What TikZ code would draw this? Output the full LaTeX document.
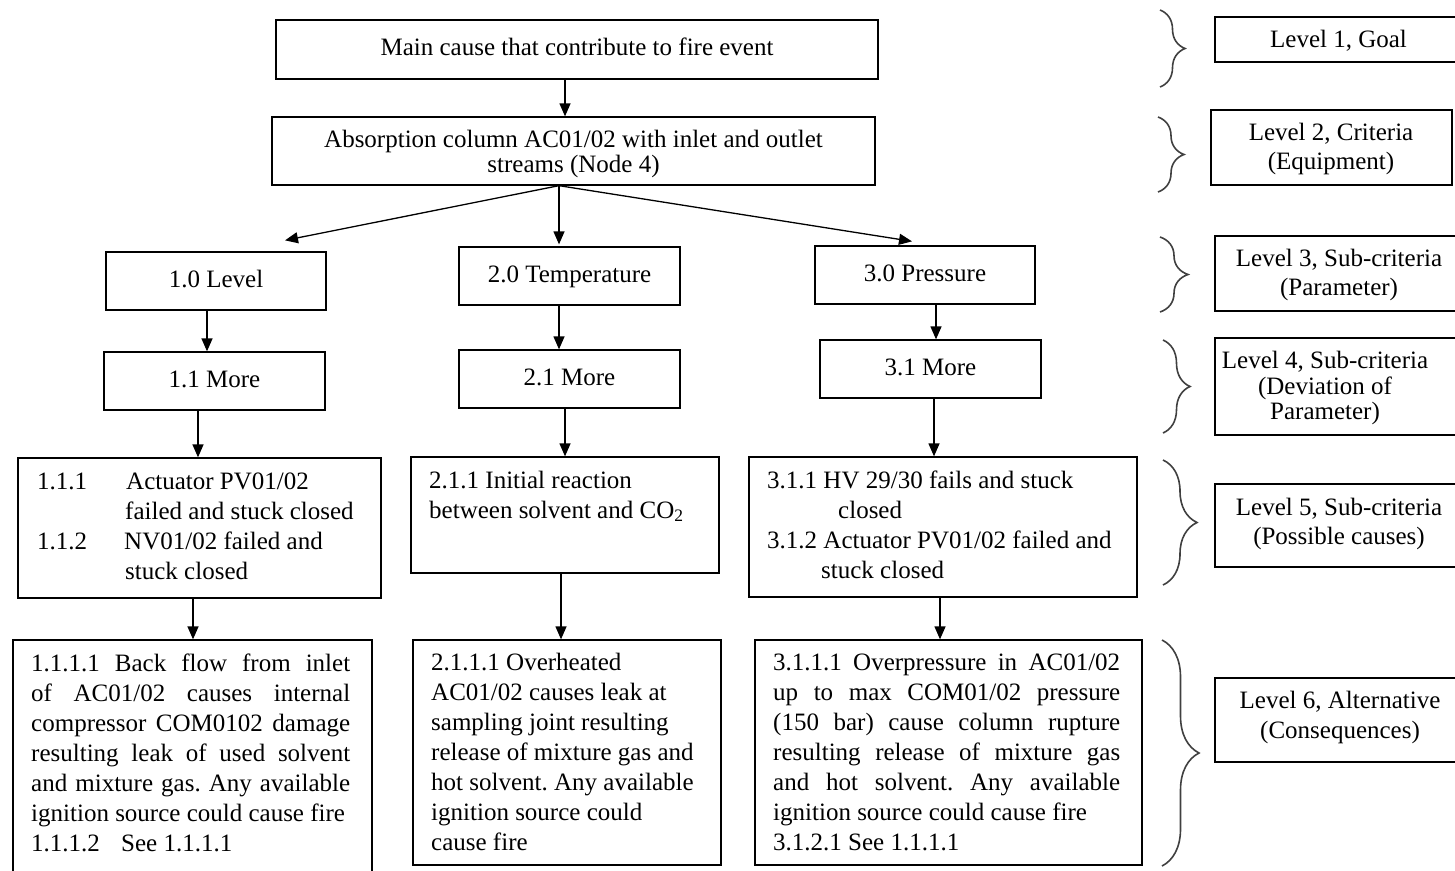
\documentclass[tikz,border=0pt]{standalone}
\usepackage{fontspec}
\setmainfont{Liberation Serif}
\usetikzlibrary{arrows.meta,decorations.pathreplacing}
\begin{document}
\frenchspacing
\begin{tikzpicture}[x=1pt,y=-1pt,
  box/.style={draw, line width=1.3pt, inner sep=0pt, rectangle},
  tx/.style={inner sep=0pt, font=\fontsize{25}{30}\selectfont},
  one/.style={font=\fontsize{25}{30}\selectfont, text height=17pt, text depth=5pt},
  arr/.style={line width=1.3pt, -{Triangle[width=11pt,length=13pt]}},
  brc/.style={decorate, decoration={brace, amplitude=#1}, line width=1.6pt, draw=black!75}
]
\useasboundingbox (0,0) rectangle (1455,870);

% ---- main tree boxes
\node[box, one, minimum width=602pt, minimum height=59pt] (main) at (577,49.5) {Main cause that contribute to fire event};
\node[box, minimum width=603pt, minimum height=68pt] (abs) at (573.5,151) {};
\node[tx, font=\fontsize{25}{25}\selectfont, align=center] (absT) at (573.5,154.5) {\strut Absorption column AC01/02 with inlet and outlet\\streams (Node 4)\strut};

\node[box, one, minimum width=220pt, minimum height=58pt] (lvl) at (216,281) {1.0 Level};
\node[box, one, minimum width=221pt, minimum height=58pt] (temp) at (569.5,276) {2.0 Temperature};
\node[box, one, minimum width=220pt, minimum height=58pt] (pres) at (925,275) {3.0 Pressure};

\node[box, one, minimum width=221pt, minimum height=58pt] (more1) at (214.5,381) {1.1 More};
\node[box, one, minimum width=221pt, minimum height=58pt] (more2) at (569.5,379) {2.1 More};
\node[box, one, minimum width=221pt, minimum height=58pt] (more3) at (930.5,369) {3.1 More};

\node[box, minimum width=363pt, minimum height=140pt] (c111) at (199.5,528) {};
\node[box, minimum width=308pt, minimum height=116pt] (c211) at (565,515) {};
\node[box, minimum width=388pt, minimum height=140pt] (c311) at (943,527) {};

\node[tx, align=left, anchor=north west] (c111T) at (37,468) {\strut\makebox[89pt][l]{1.1.1}Actuator PV01/02\\
\hspace*{88pt}failed and stuck closed\\
\makebox[87pt][l]{1.1.2}NV01/02 failed and\\
\hspace*{88pt}stuck closed};
\node[tx, align=left, anchor=north west] (c211T) at (429,467) {\strut 2.1.1 Initial reaction\\between solvent and CO\textsubscript{2}};
\node[tx, align=left, anchor=north west] (c311T) at (767,467) {\strut 3.1.1 HV 29/30 fails and stuck\\
\hspace*{71pt}closed\\
3.1.2 Actuator PV01/02 failed and\\
\hspace*{54pt}stuck closed};

\node[box, minimum width=359pt, minimum height=240pt] (d1) at (192.5,760) {};
\node[box, minimum width=308pt, minimum height=225pt] (d2) at (567,752.5) {};
\node[box, minimum width=387pt, minimum height=225pt] (d3) at (948.5,752.5) {};

\node[tx, text width=319pt, align=justify, anchor=north west] (d1T) at (31,650) {\strut 1.1.1.1 Back flow from inlet\linebreak
of AC01/02 causes internal\linebreak
compressor COM0102 damage\linebreak
resulting leak of used solvent\linebreak
and mixture gas. Any available\linebreak
ignition source could cause fire\par
\makebox[90pt][l]{1.1.1.2}See 1.1.1.1};
\node[tx, align=left, anchor=north west] (d2T) at (431,649) {\strut 2.1.1.1 Overheated\\
AC01/02 causes leak at\\
sampling joint resulting\\
release of mixture gas and\\
hot solvent. Any available\\
ignition source could\\
cause fire};
\node[tx, text width=347pt, align=justify, anchor=north west] (d3T) at (773,649) {\strut 3.1.1.1 Overpressure in AC01/02\linebreak
up to max COM01/02 pressure\linebreak
(150 bar) cause column rupture\linebreak
resulting release of mixture gas\linebreak
and hot solvent. Any available\linebreak
ignition source could cause fire\par
3.1.2.1 See 1.1.1.1};

% ---- connectors
\draw[arr] ([xshift=-12pt]main.south) -- ([xshift=-8.5pt]abs.north);
\draw[arr] ([xshift=-14.5pt]abs.south) -- ([xshift=69pt,yshift=11pt]lvl.north);
\draw[arr] ([xshift=-14.5pt]abs.south) -- ([xshift=-10.5pt,yshift=2pt]temp.north);
\draw[arr] ([xshift=-14.5pt]abs.south) -- ([xshift=-13pt,yshift=4pt]pres.north);
\draw[arr] ([xshift=-9pt]lvl.south) -- ([xshift=-7.5pt]more1.north);
\draw[arr] ([xshift=-10.5pt]temp.south) -- ([xshift=-10.5pt]more2.north);
\draw[arr] ([xshift=11pt]pres.south) -- ([xshift=5.5pt]more3.north);
\draw[arr] ([xshift=-16.5pt]more1.south) -- ([xshift=-1.5pt]c111.north);
\draw[arr] ([xshift=-4.5pt]more2.south) -- (c211.north);
\draw[arr] ([xshift=3.5pt]more3.south) -- ([xshift=-9pt]c311.north);
\draw[arr] ([xshift=-6.5pt]c111.south) -- ([xshift=0.5pt]d1.north);
\draw[arr] ([xshift=-4pt]c211.south) -- ([xshift=-6pt]d2.north);
\draw[arr] ([xshift=-3pt]c311.south) -- ([xshift=-8.5pt]d3.north);

% ---- level boxes
\node[box, one, text height=18.5pt, text depth=3.5pt, minimum width=247pt, minimum height=45pt] (L1) at (1338.5,39.5) {Level 1, Goal};
\node[box, minimum width=241pt, minimum height=75pt] (L2) at (1331.5,147.5) {};
\node[tx, font=\fontsize{25}{29}\selectfont, align=center] (L2T) at (1331,148.7) {\strut Level 2, Criteria\\(Equipment)\strut};
\node[box, minimum width=247pt, minimum height=75pt] (L3) at (1338.5,273.5) {};
\node[tx, font=\fontsize{25}{29}\selectfont, align=center] (L3T) at (1339,274.7) {\strut Level 3, Sub-criteria\\(Parameter)\strut};
\node[box, minimum width=247pt, minimum height=97pt] (L4) at (1338.5,386.5) {};
\node[tx, font=\fontsize{25}{25}\selectfont, align=center] (L4T) at (1325,389) {\strut Level 4, Sub-criteria\\(Deviation of\\Parameter)\strut};
\node[box, minimum width=247pt, minimum height=83pt] (L5) at (1338.5,525.5) {};
\node[tx, font=\fontsize{25}{29}\selectfont, align=center] (L5T) at (1339,523.7) {\strut Level 5, Sub-criteria\\(Possible causes)\strut};
\node[box, minimum width=247pt, minimum height=84pt] (L6) at (1338.5,720) {};
\node[tx, font=\fontsize{25}{30}\selectfont, align=center] (L6T) at (1340,717) {\strut Level 6, Alternative\\(Consequences)\strut};

% ---- braces
\draw[brc=25] (1160,10) -- (1160,87);
\draw[brc=26] (1158,117) -- (1158,192);
\draw[brc=28] (1160,237) -- (1160,312);
\draw[brc=27] (1163,340) -- (1163,433);
\draw[brc=34] (1163,460) -- (1163,585);
\draw[brc=37] (1162,640) -- (1162,866);
\end{tikzpicture}
\end{document}
